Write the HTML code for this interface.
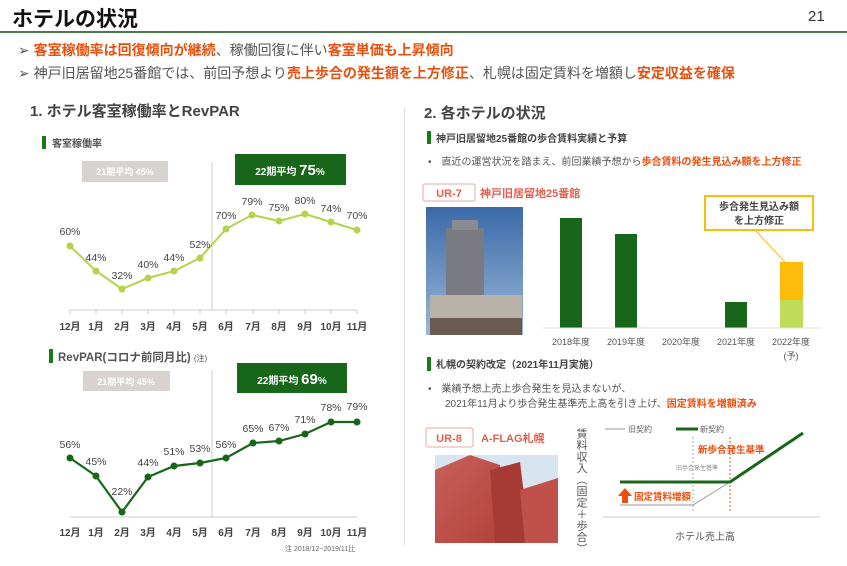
<!DOCTYPE html>
<html><head><meta charset="utf-8"><style>
body{margin:0;width:847px;height:566px;background:#fff;font-family:"Liberation Sans","Noto Sans CJK JP",sans-serif;position:relative;overflow:hidden;color:#444}
.a{position:absolute;white-space:nowrap}
.b{font-weight:bold}
.o{color:#e8500f;font-weight:bold}
</style></head><body>
<div class="a b" style="left:12px;top:3px;font-size:21px;color:#111">ホテルの状況</div>
<div class="a" style="left:808px;top:8px;font-size:15px;color:#333">21</div>
<div style="position:absolute;left:0;top:31px;width:847px;height:2px;background:#4a7a4a"></div>
<div class="a" style="left:18px;top:40px;font-size:14px;color:#555">➢ <span class="o">客室稼働率は回復傾向が継続</span>、稼働回復に伴い<span class="o">客室単価も上昇傾向</span></div>
<div class="a" style="left:18px;top:63px;font-size:14px;color:#555">➢ 神戸旧居留地25番館では、前回予想より<span class="o">売上歩合の発生額を上方修正</span>、札幌は固定賃料を増額し<span class="o">安定収益を確保</span></div>
<div class="a b" style="left:30px;top:100px;font-size:15px;color:#444">1. ホテル客室稼働率とRevPAR</div>
<div class="a b" style="left:424px;top:102px;font-size:15px;color:#444">2. 各ホテルの状況</div>
<div style="position:absolute;left:404px;top:108px;width:1px;height:437px;background:#ddd"></div>

<svg width="847" height="566" style="position:absolute;left:0;top:0" font-family="Liberation Sans,Noto Sans CJK JP,sans-serif">
<rect x="42" y="136" width="4" height="13" fill="#1a7a1a"/>
<text x="52" y="147" font-size="10" font-weight="bold" fill="#555">客室稼働率</text>
<rect x="82" y="161" width="86" height="21" fill="#d8d2d0"/>
<text x="125" y="175" font-size="9" fill="#fff" text-anchor="middle" font-weight="bold">21期平均 45%</text>
<rect x="235" y="154" width="111" height="31" fill="#17661a"/>
<text x="290" y="175" font-size="10" fill="#fff" text-anchor="middle" font-weight="bold">22期平均 <tspan font-size="15">75</tspan>%</text>
<line x1="212" y1="162" x2="212" y2="310" stroke="#ccc"/>
<line x1="70" y1="310" x2="357" y2="310" stroke="#ccc"/>
<g stroke="#ccc">
<line x1="70" y1="310" x2="70" y2="314"/><line x1="96" y1="310" x2="96" y2="314"/><line x1="122" y1="310" x2="122" y2="314"/><line x1="148" y1="310" x2="148" y2="314"/><line x1="174" y1="310" x2="174" y2="314"/><line x1="200" y1="310" x2="200" y2="314"/><line x1="226" y1="310" x2="226" y2="314"/><line x1="253" y1="310" x2="253" y2="314"/><line x1="279" y1="310" x2="279" y2="314"/><line x1="305" y1="310" x2="305" y2="314"/><line x1="331" y1="310" x2="331" y2="314"/><line x1="357" y1="310" x2="357" y2="314"/></g>
<polyline points="70,246 96,271 122,289 148,278 174,271 200,258 226,229 252,215 279,221 305,214 331,222 357,230" fill="none" stroke="#b5d34a" stroke-width="2"/>
<g fill="#b5d34a"><circle cx="70" cy="246" r="3.5"/><circle cx="96" cy="271" r="3.5"/><circle cx="122" cy="289" r="3.5"/><circle cx="148" cy="278" r="3.5"/><circle cx="174" cy="271" r="3.5"/><circle cx="200" cy="258" r="3.5"/><circle cx="226" cy="229" r="3.5"/><circle cx="252" cy="215" r="3.5"/><circle cx="279" cy="221" r="3.5"/><circle cx="305" cy="214" r="3.5"/><circle cx="331" cy="222" r="3.5"/><circle cx="357" cy="230" r="3.5"/></g>
<g font-size="10.5" fill="#444" text-anchor="middle">
<text x="70" y="235">60%</text><text x="96" y="261">44%</text><text x="122" y="279">32%</text><text x="148" y="268">40%</text><text x="174" y="261">44%</text><text x="200" y="248">52%</text><text x="226" y="219">70%</text><text x="252" y="205">79%</text><text x="279" y="211">75%</text><text x="305" y="204">80%</text><text x="331" y="212">74%</text><text x="357" y="219">70%</text></g>
<g font-size="10" fill="#444" text-anchor="middle" font-weight="bold">
<text x="70" y="330">12月</text><text x="96" y="330">1月</text><text x="122" y="330">2月</text><text x="148" y="330">3月</text><text x="174" y="330">4月</text><text x="200" y="330">5月</text><text x="226" y="330">6月</text><text x="253" y="330">7月</text><text x="279" y="330">8月</text><text x="305" y="330">9月</text><text x="331" y="330">10月</text><text x="357" y="330">11月</text></g>
<rect x="49" y="349" width="4" height="14" fill="#1a7a1a"/>
<text x="58" y="361" font-size="11.5" font-weight="bold" fill="#555">RevPAR(コロナ前同月比) <tspan font-size="8" font-weight="normal">(注)</tspan></text>
<rect x="83" y="371" width="87" height="20" fill="#d8d2d0"/>
<text x="126" y="385" font-size="9" fill="#fff" text-anchor="middle" font-weight="bold">21期平均 45%</text>
<rect x="237" y="363" width="110" height="30" fill="#17661a"/>
<text x="292" y="384" font-size="10" fill="#fff" text-anchor="middle" font-weight="bold">22期平均 <tspan font-size="15">69</tspan>%</text>
<line x1="212" y1="370" x2="212" y2="517" stroke="#ccc"/>
<line x1="70" y1="517" x2="357" y2="517" stroke="#ccc"/>
<polyline points="70,458 96,476 122,512 148,477 174,466 200,463 226,458 253,443 279,441 305,434 331,422 357,422" fill="none" stroke="#17661a" stroke-width="2.2"/>
<g fill="#17661a"><circle cx="70" cy="458" r="3.5"/><circle cx="96" cy="476" r="3.5"/><circle cx="122" cy="512" r="3.5"/><circle cx="148" cy="477" r="3.5"/><circle cx="174" cy="466" r="3.5"/><circle cx="200" cy="463" r="3.5"/><circle cx="226" cy="458" r="3.5"/><circle cx="253" cy="443" r="3.5"/><circle cx="279" cy="441" r="3.5"/><circle cx="305" cy="434" r="3.5"/><circle cx="331" cy="422" r="3.5"/><circle cx="357" cy="422" r="3.5"/></g>
<g font-size="10.5" fill="#444" text-anchor="middle">
<text x="70" y="448">56%</text><text x="96" y="465">45%</text><text x="122" y="495">22%</text><text x="148" y="466">44%</text><text x="174" y="455">51%</text><text x="200" y="452">53%</text><text x="226" y="448">56%</text><text x="253" y="432">65%</text><text x="279" y="431">67%</text><text x="305" y="423">71%</text><text x="331" y="411">78%</text><text x="357" y="410">79%</text></g>
<g font-size="10" fill="#444" text-anchor="middle" font-weight="bold">
<text x="70" y="536">12月</text><text x="96" y="536">1月</text><text x="122" y="536">2月</text><text x="148" y="536">3月</text><text x="174" y="536">4月</text><text x="200" y="536">5月</text><text x="226" y="536">6月</text><text x="253" y="536">7月</text><text x="279" y="536">8月</text><text x="305" y="536">9月</text><text x="331" y="536">10月</text><text x="357" y="536">11月</text></g>
<text x="285" y="551" font-size="7" fill="#666">注 2018/12~2019/11比</text>

<rect x="427" y="131" width="4" height="13" fill="#1a7a1a"/>
<text x="436" y="142" font-size="10" font-weight="bold" fill="#444">神戸旧居留地25番館の歩合賃料実績と予算</text>
<text x="428" y="165" font-size="10" fill="#555">•　直近の運営状況を踏まえ、前回業績予想から<tspan fill="#e8500f" font-weight="bold">歩合賃料の発生見込み額を上方修正</tspan></text>
<rect x="423" y="184" width="52" height="17" rx="2" fill="#fff" stroke="#e8a9a0"/>
<text x="449" y="197" font-size="11" font-weight="bold" fill="#e06050" text-anchor="middle">UR-7</text>
<text x="480" y="197" font-size="11" font-weight="bold" fill="#e06050">神戸旧居留地25番館</text>
<defs><linearGradient id="sky" x1="0" y1="0" x2="0" y2="1"><stop offset="0" stop-color="#3b6aa8"/><stop offset="1" stop-color="#9ab8d8"/></linearGradient>
<linearGradient id="red" x1="0" y1="0" x2="1" y2="1"><stop offset="0" stop-color="#c8605a"/><stop offset="1" stop-color="#b4403a"/></linearGradient></defs>
<rect x="426" y="207" width="97" height="128" fill="url(#sky)"/>
<rect x="446" y="228" width="38" height="90" fill="#7a7a82"/>
<rect x="452" y="220" width="26" height="10" fill="#8a8a92"/>
<rect x="430" y="295" width="92" height="40" fill="#b8b2a8"/>
<rect x="430" y="318" width="92" height="17" fill="#6a5a50"/>
<rect x="560" y="218" width="22" height="110" fill="#17661a"/>
<rect x="615" y="234" width="22" height="94" fill="#17661a"/>
<rect x="725" y="302" width="22" height="26" fill="#17661a"/>
<rect x="780" y="262" width="23" height="38" fill="#fdbb0a"/>
<rect x="780" y="300" width="23" height="28" fill="#bedb5a"/>
<line x1="543" y1="328" x2="820" y2="328" stroke="#ddd"/>
<line x1="755" y1="230" x2="785" y2="262" stroke="#fdbb0a"/>
<rect x="705" y="196" width="108" height="34" fill="#fff" stroke="#fdbb0a" stroke-width="2"/>
<text x="759" y="210" font-size="10" font-weight="bold" fill="#444" text-anchor="middle">歩合発生見込み額</text>
<text x="759" y="224" font-size="10" font-weight="bold" fill="#444" text-anchor="middle">を上方修正</text>
<g font-size="9" fill="#555" text-anchor="middle"><text x="571" y="345">2018年度</text><text x="626" y="345">2019年度</text><text x="681" y="345">2020年度</text><text x="736" y="345">2021年度</text><text x="791" y="345">2022年度</text><text x="791" y="359">(予)</text></g>

<rect x="427" y="357" width="4" height="14" fill="#1a7a1a"/>
<text x="436" y="368" font-size="10" font-weight="bold" fill="#444">札幌の契約改定（2021年11月実施）</text>
<text x="428" y="392" font-size="10" fill="#555">•　業績予想上売上歩合発生を見込まないが、</text>
<text x="445" y="407" font-size="10" fill="#555">2021年11月より歩合発生基準売上高を引き上げ、<tspan fill="#e8500f" font-weight="bold">固定賃料を増額済み</tspan></text>
<rect x="426" y="428" width="47" height="19" rx="2" fill="#fff" stroke="#e8a9a0"/>
<text x="449" y="442" font-size="11" font-weight="bold" fill="#e06050" text-anchor="middle">UR-8</text>
<text x="481" y="442" font-size="11" font-weight="bold" fill="#e06050">A-FLAG札幌</text>
<rect x="435" y="455" width="123" height="88" fill="#d8e4f0"/>
<polygon points="435,470 470,455 500,465 505,543 435,543" fill="url(#red)"/>
<polygon points="490,470 520,462 530,543 495,543" fill="#a83a35"/>
<polygon points="520,490 558,478 558,543 525,543" fill="#c0504a"/>
<text x="581" y="428" font-size="11" fill="#555" writing-mode="tb" letter-spacing="0.5">賃料収入（固定＋歩合）</text>
<line x1="605" y1="429" x2="625" y2="429" stroke="#999"/>
<text x="628" y="432" font-size="8" fill="#666">旧契約</text>
<line x1="676" y1="429" x2="698" y2="429" stroke="#17661a" stroke-width="3"/>
<text x="700" y="432" font-size="8" fill="#666">新契約</text>
<line x1="693" y1="437" x2="693" y2="512" stroke="#9ab" stroke-dasharray="2,2"/>
<line x1="730" y1="437" x2="730" y2="512" stroke="#e8500f" stroke-dasharray="2,2"/>
<polyline points="620,505 693,505 730,482" fill="none" stroke="#999"/>
<polyline points="620,482 730,482 803,433" fill="none" stroke="#17661a" stroke-width="3"/>
<line x1="603" y1="517" x2="820" y2="517" stroke="#ccc"/>
<polygon points="625,488 632,496 628,496 628,503 622,503 622,496 618,496" fill="#e8500f"/>
<text x="634" y="500" font-size="9.5" font-weight="bold" fill="#e8500f">固定賃料増額</text>
<text x="698" y="453" font-size="9.5" font-weight="bold" fill="#e8500f">新歩合発生基準</text>
<text x="676" y="470" font-size="6" fill="#888">旧歩合発生基準</text>
<text x="705" y="540" font-size="10" fill="#555" text-anchor="middle">ホテル売上高</text>
</svg>
</body></html>
